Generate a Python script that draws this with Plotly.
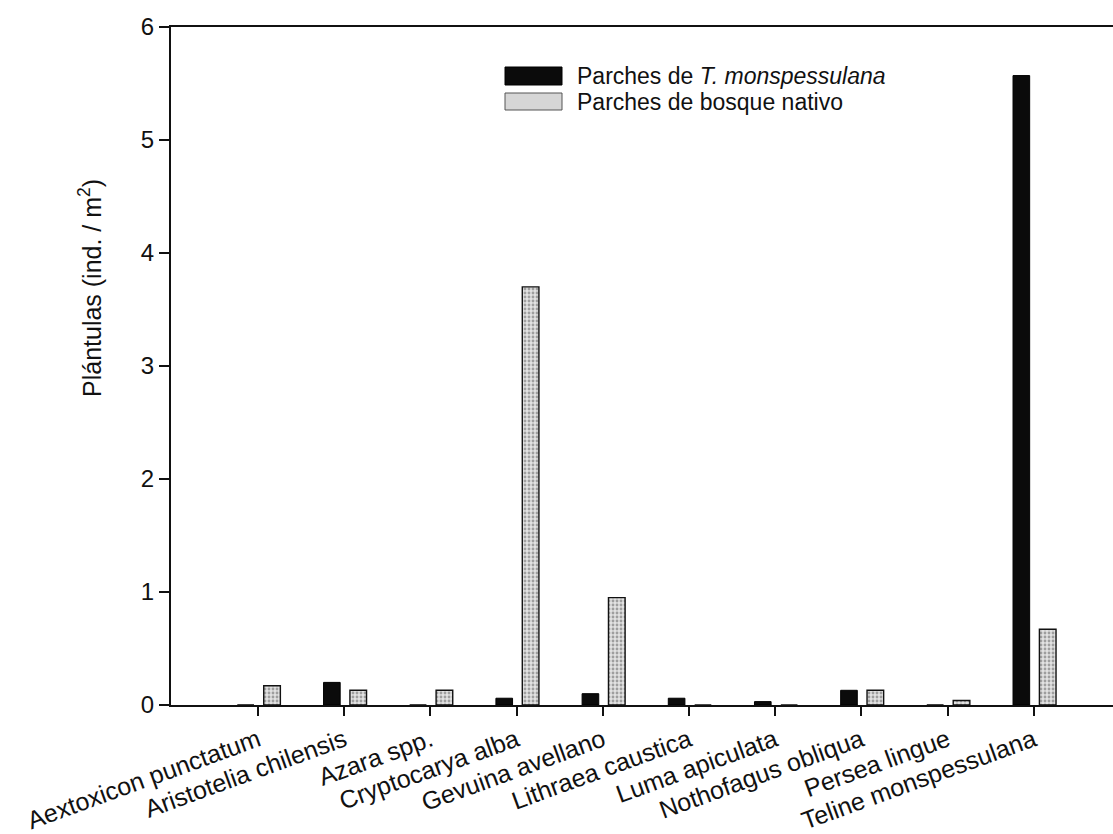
import plotly.graph_objects as go

# Seedling density per species in each patch type
species = [
    "Aextoxicon punctatum", "Aristotelia chilensis", "Azara spp.",
    "Cryptocarya alba", "Gevuina avellano", "Lithraea caustica",
    "Luma apiculata", "Nothofagus obliqua", "Persea lingue",
    "Teline monspessulana",
]
teline_patches = [0.0, 0.20, 0.0, 0.06, 0.10, 0.06, 0.03, 0.13, 0.0, 5.57]
native_patches = [0.17, 0.13, 0.13, 3.70, 0.95, 0.0, 0.0, 0.13, 0.04, 0.67]
y_ticks = [0, 1, 2, 3, 4, 5, 6]

x_pos = list(range(len(species)))
FONT = "Liberation Sans, Arial, sans-serif"

fig = go.Figure()
fig.add_trace(go.Bar(
    x=x_pos, y=teline_patches, name="Parches de T. monspessulana",
    width=0.193, offset=-0.24,
    marker=dict(color="#0b0b0b", line=dict(color="#000", width=1)),
    showlegend=False,
))
fig.add_trace(go.Bar(
    x=x_pos, y=native_patches, name="Parches de bosque nativo",
    width=0.193, offset=0.066,
    marker=dict(
        color="#dedede",
        line=dict(color="#111", width=1.4),
        pattern=dict(shape=".", fgcolor="#5a5a5a", bgcolor="#e2e2e2",
                     size=4, solidity=0.4),
    ),
    showlegend=False,
))

# Plot area in pixels: left 171, right 1113, top 27, bottom 705
L, R, T, B = 171, 1113, 27, 705
def px(x):
    return (x - L) / (R - L)
def py(y):
    return (B - y) / (B - T)

# Hand-built legend with wide swatches
fig.add_shape(type="rect", xref="paper", yref="paper",
              x0=px(505), x1=px(562), y0=py(85), y1=py(67),
              fillcolor="#0b0b0b", line=dict(color="#000", width=1))
fig.add_shape(type="rect", xref="paper", yref="paper",
              x0=px(505), x1=px(562), y0=py(110), y1=py(93),
              fillcolor="#d6d6d6", line=dict(color="#555", width=1))
fig.add_annotation(xref="paper", yref="paper", x=px(576), y=py(76),
                   xanchor="left", yanchor="middle", showarrow=False,
                   borderpad=0,
                   text="Parches de <i>T. monspessulana</i>",
                   font=dict(family=FONT, size=23, color="#111"))
fig.add_annotation(xref="paper", yref="paper", x=px(576), y=py(102),
                   xanchor="left", yanchor="middle", showarrow=False,
                   borderpad=0,
                   text="Parches de bosque nativo",
                   font=dict(family=FONT, size=23, color="#111"))

# Y-axis title
fig.add_annotation(xref="paper", yref="paper", x=px(90), y=py(288),
                   xanchor="center", yanchor="middle", showarrow=False,
                   textangle=-90,
                   text="Plántulas (ind. / m<sup>2</sup>)",
                   font=dict(family=FONT, size=25, color="#111"))

fig.update_layout(
    width=1113, height=834,
    margin=dict(l=L, r=1113 - R, t=T, b=834 - B, autoexpand=False),
    paper_bgcolor="white", plot_bgcolor="white",
    barmode="overlay",
    font=dict(family=FONT, color="#111"),
)
fig.update_xaxes(
    range=[-1.01, 9.92], automargin=False,
    tickmode="array", tickvals=x_pos, ticktext=species,
    tickangle=-20, tickfont=dict(size=25, family=FONT, color="#111"),
    ticks="outside", ticklen=9, tickwidth=2, tickcolor="#111",
    showline=True, linecolor="#111", linewidth=2, mirror=True,
    showgrid=False, zeroline=False,
)
fig.update_yaxes(
    range=[0, 6], automargin=False,
    tickmode="array", tickvals=y_ticks,
    tickfont=dict(size=24, family=FONT, color="#111"),
    ticks="outside", ticklen=10, tickwidth=2, tickcolor="#111",
    showline=True, linecolor="#111", linewidth=2,
    showgrid=False, zeroline=False,
)

fig.write_html("out.html")
